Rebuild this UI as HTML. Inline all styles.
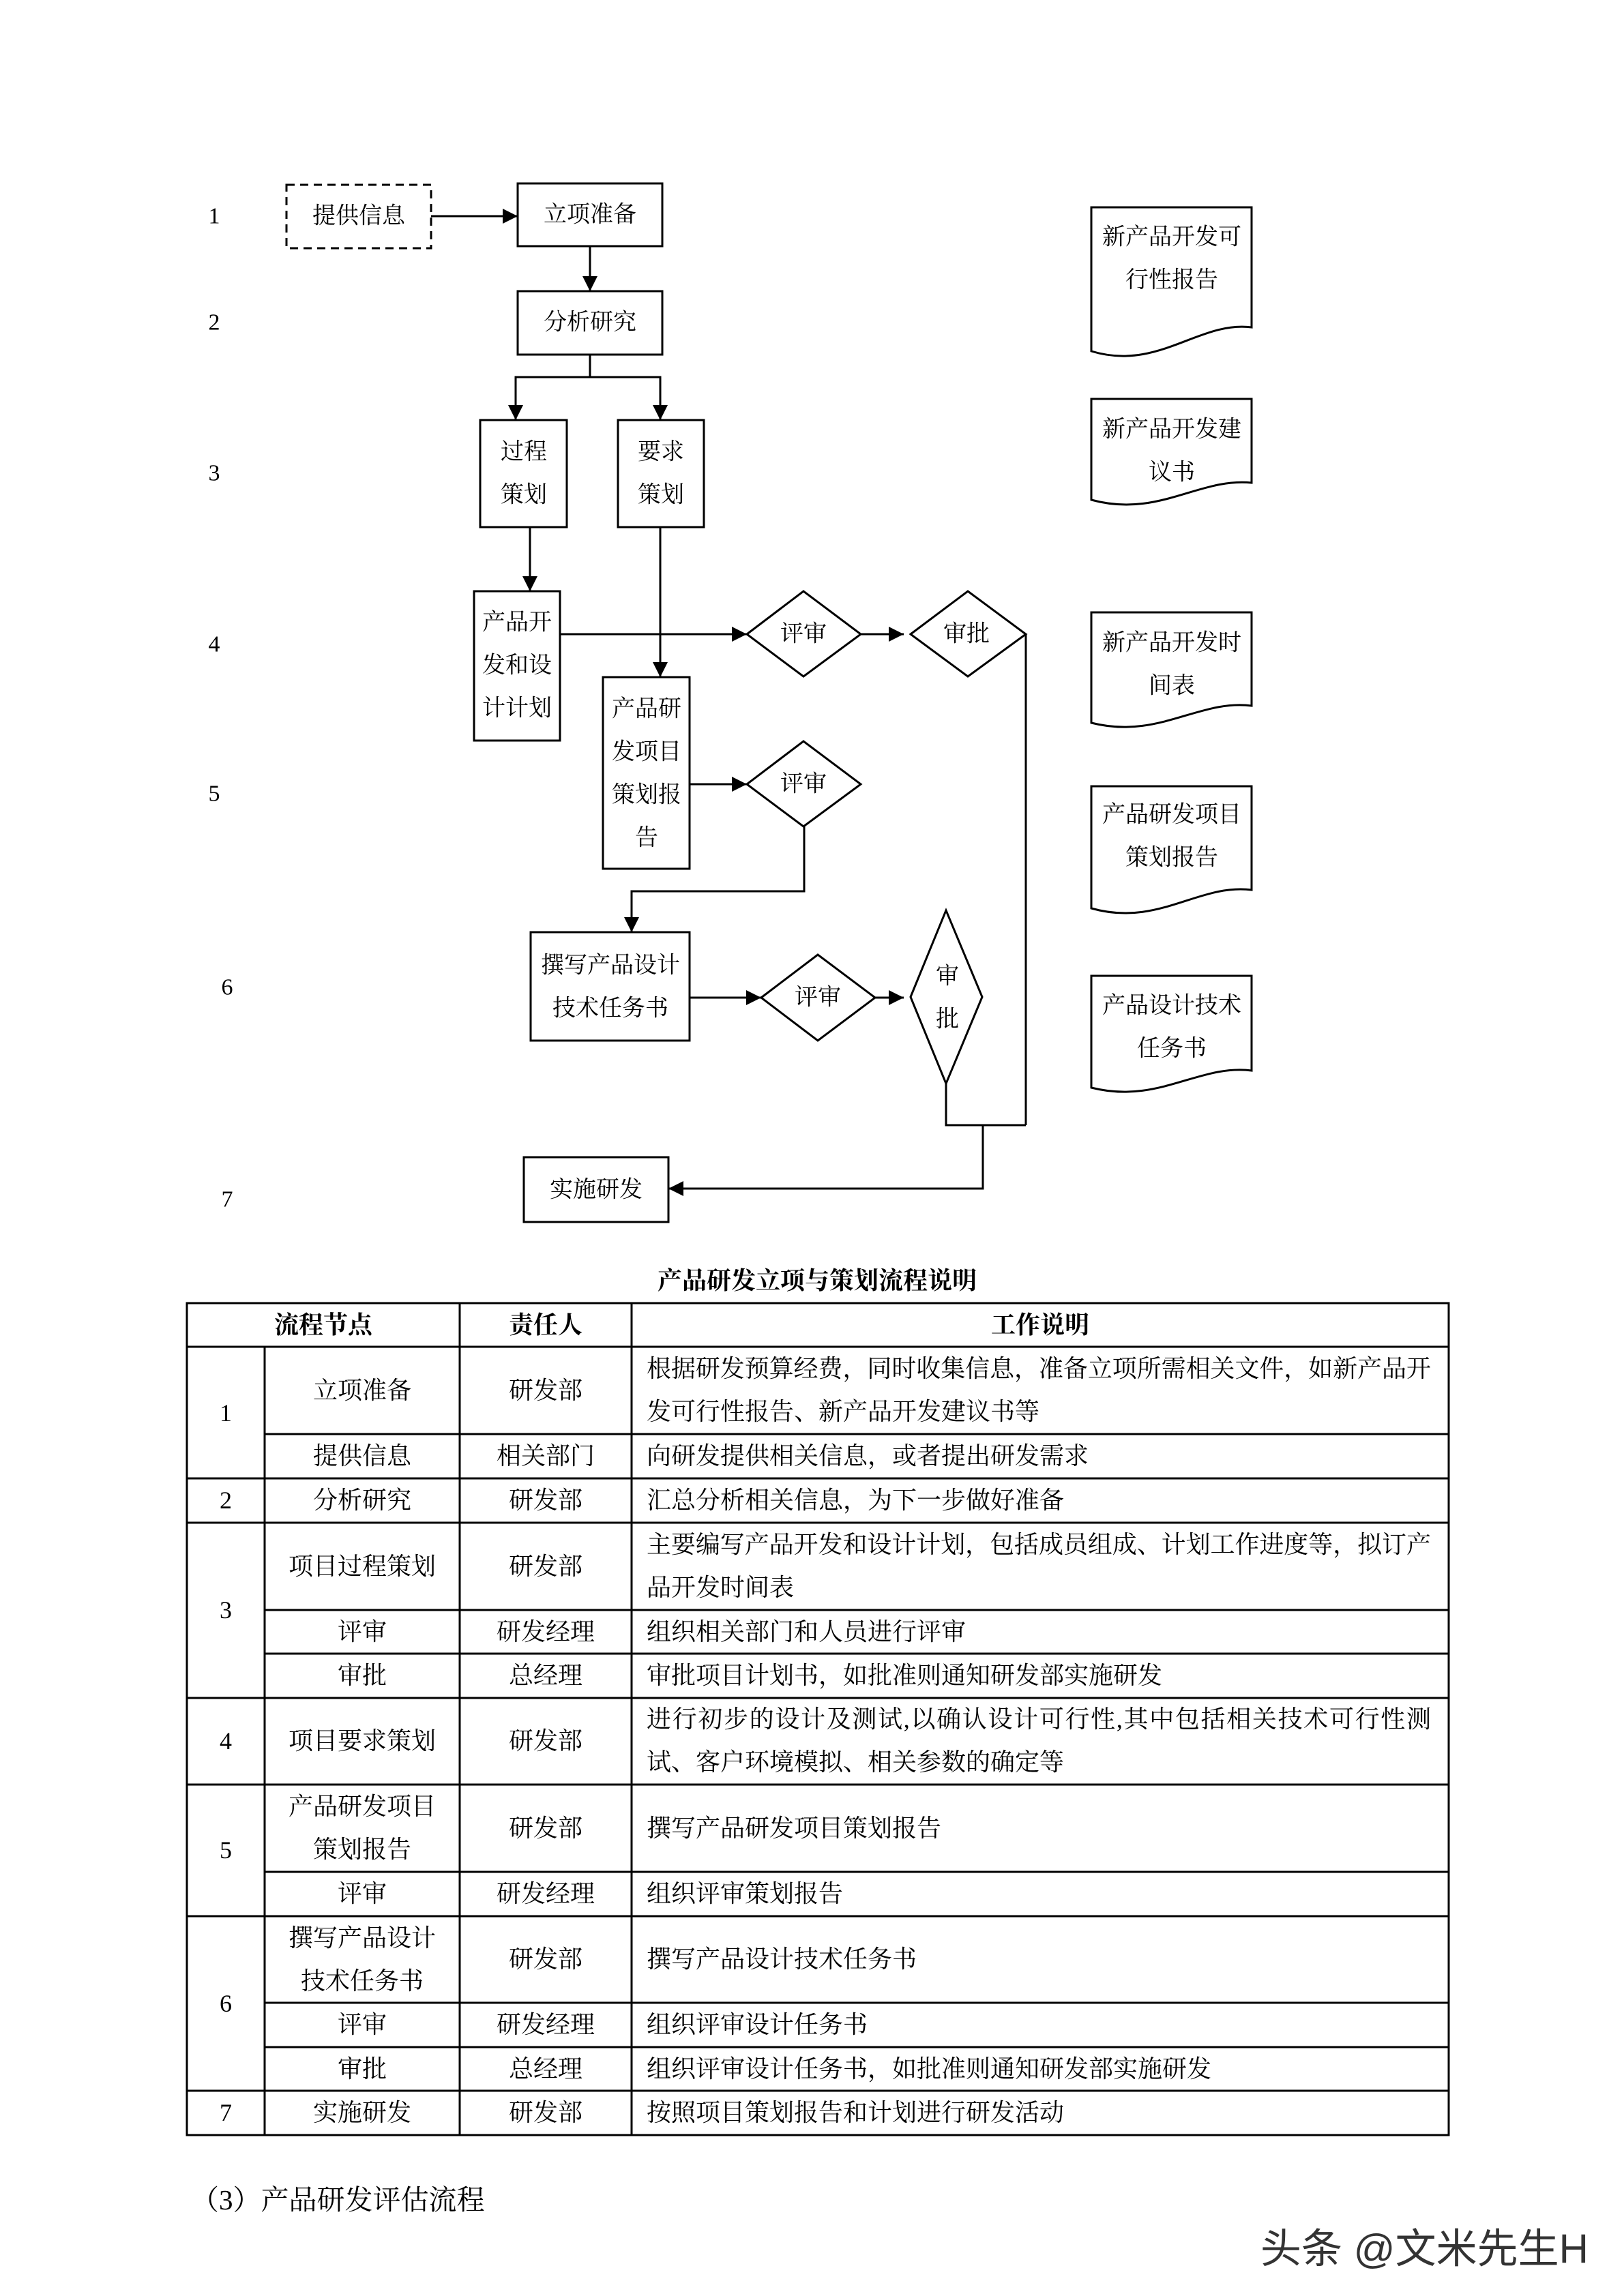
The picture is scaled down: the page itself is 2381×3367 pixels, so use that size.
<!DOCTYPE html>
<html><head><meta charset="utf-8"><style>
html,body{margin:0;padding:0;background:#fff}
svg{display:block}
text{font-family:"Liberation Serif","Noto Serif CJK SC",serif;font-size:34px;fill:#000}
.t{font-size:36px}
</style></head><body>
<svg width="2381" height="3367" viewBox="0 0 2381 3367" xmlns="http://www.w3.org/2000/svg">
<defs>
<marker id="b" viewBox="0 0 10 10" refX="10" refY="5" markerWidth="26" markerHeight="22" markerUnits="userSpaceOnUse" orient="auto"><path d="M0,0L10,5L0,10z" fill="#000"/></marker></defs>
<g stroke="#000" stroke-width="3" fill="none">
<rect x="420" y="271" width="212" height="93" stroke-dasharray="12,8"/>
<rect x="759" y="269" width="212" height="92"/>
<rect x="759" y="427" width="212" height="93"/>
<rect x="704" y="616" width="127" height="157"/>
<rect x="906" y="616" width="126" height="157"/>
<rect x="695" y="867" width="126" height="219"/>
<rect x="884" y="993" width="127" height="281"/>
<rect x="778" y="1367" width="233" height="159"/>
<rect x="768" y="1697" width="212" height="95"/>
<path d="M1095,930L1178,867L1262,930L1178,992Z"/>
<path d="M1335,930L1419,867L1504,930L1419,992Z"/>
<path d="M1095,1150L1178,1087L1262,1150L1178,1212Z"/>
<path d="M1116,1463L1199,1400L1283,1463L1199,1526Z"/>
<path d="M1335,1462L1387,1335L1440,1462L1387,1589Z"/>
<g marker-end="url(#b)">
<path d="M632,317L759,317"/>
<path d="M865,361L865,427"/>
<path d="M865,520L865,553L756,553L756,616"/>
<path d="M865,553L968,553L968,616"/>
<path d="M777,773L777,867"/>
<path d="M968,773L968,993"/>
<path d="M821,930L1095,930"/>
<path d="M1262,930L1325,930"/>
<path d="M1011,1150L1095,1150"/>
<path d="M1179,1212L1179,1307L926,1307L926,1367"/>
<path d="M1011,1463L1116,1463"/>
<path d="M1283,1463L1325,1463"/>
<path d="M1441,1650L1441,1743L980,1743"/>
</g>
<path d="M1504,930L1504,1650"/>
<path d="M1387,1589L1387,1650L1504,1650"/>
<path d="M1600,304H1835V480C1758,470 1698,545 1600,515Z"/>
<path d="M1600,585H1835V708C1758,700 1698,760 1600,733Z"/>
<path d="M1600,898H1835V1035C1758,1025 1698,1085 1600,1060Z"/>
<path d="M1600,1153H1835V1305C1758,1295 1698,1360 1600,1332Z"/>
<path d="M1600,1431H1835V1570C1758,1560 1698,1620 1600,1595Z"/>
<rect x="274" y="1911" width="1850" height="1220"/>
<path d="M388,1975V3131M674,1911V3131M926,1911V3131"/>
<path d="M274,1975H2124M388,2103H2124M274,2168H2124M274,2233H2124M388,2361H2124M388,2425H2124M274,2490H2124M274,2617H2124M388,2745H2124M274,2810H2124M388,2937H2124M388,3002H2124M274,3066H2124"/>
</g>
<g text-anchor="middle" dominant-baseline="central">
<text x="314" y="317">1</text><text x="314" y="473">2</text><text x="314" y="694">3</text><text x="314" y="945">4</text><text x="314" y="1164">5</text><text x="333" y="1448">6</text><text x="333" y="1759">7</text>
<text x="526" y="317">提供信息</text>
<text x="865" y="315">立项准备</text>
<text x="865" y="473">分析研究</text>
<text x="768" y="663">过程</text><text x="768" y="726">策划</text>
<text x="969" y="663">要求</text><text x="969" y="726">策划</text>
<text x="758" y="913">产品开</text><text x="758" y="976">发和设</text><text x="758" y="1039">计计划</text>
<text x="948" y="1040">产品研</text><text x="948" y="1103">发项目</text><text x="948" y="1166">策划报</text><text x="948" y="1229">告</text>
<text x="895" y="1416">撰写产品设计</text><text x="895" y="1479">技术任务书</text>
<text x="874" y="1745">实施研发</text>
<text x="1178" y="930">评审</text>
<text x="1417" y="930">审批</text>
<text x="1178" y="1150">评审</text>
<text x="1199" y="1463">评审</text>
<text x="1389" y="1432">审</text><text x="1389" y="1495">批</text>
<text x="1718" y="348">新产品开发可</text><text x="1718" y="411">行性报告</text>
<text x="1718" y="630">新产品开发建</text><text x="1718" y="693">议书</text>
<text x="1718" y="943">新产品开发时</text><text x="1718" y="1006">间表</text>
<text x="1718" y="1195">产品研发项目</text><text x="1718" y="1258">策划报告</text>
<text x="1718" y="1475">产品设计技术</text><text x="1718" y="1538">任务书</text>
<text x="1198" y="1878" font-weight="bold" class="t">产品研发立项与策划流程说明</text>
<text x="474" y="1943" font-weight="bold" class="t">流程节点</text><text x="800" y="1943" font-weight="bold" class="t">责任人</text><text x="1525" y="1943" font-weight="bold" class="t">工作说明</text>
<text x="331" y="2072" class="t">1</text><text x="331" y="2200" class="t">2</text><text x="331" y="2361" class="t">3</text><text x="331" y="2553" class="t">4</text><text x="331" y="2713" class="t">5</text><text x="331" y="2938" class="t">6</text><text x="331" y="3098" class="t">7</text>
<text x="531" y="2039" class="t">立项准备</text><text x="800" y="2039" class="t">研发部</text>
<text x="531" y="2135" class="t">提供信息</text><text x="800" y="2135" class="t">相关部门</text>
<text x="531" y="2200" class="t">分析研究</text><text x="800" y="2200" class="t">研发部</text>
<text x="531" y="2297" class="t">项目过程策划</text><text x="800" y="2297" class="t">研发部</text>
<text x="531" y="2393" class="t">评审</text><text x="800" y="2393" class="t">研发经理</text>
<text x="531" y="2457" class="t">审批</text><text x="800" y="2457" class="t">总经理</text>
<text x="531" y="2553" class="t">项目要求策划</text><text x="800" y="2553" class="t">研发部</text>
<text x="531" y="2649" class="t">产品研发项目</text><text x="531" y="2712" class="t">策划报告</text><text x="800" y="2681" class="t">研发部</text>
<text x="531" y="2777" class="t">评审</text><text x="800" y="2777" class="t">研发经理</text>
<text x="531" y="2842" class="t">撰写产品设计</text><text x="531" y="2905" class="t">技术任务书</text><text x="800" y="2873" class="t">研发部</text>
<text x="531" y="2969" class="t">评审</text><text x="800" y="2969" class="t">研发经理</text>
<text x="531" y="3034" class="t">审批</text><text x="800" y="3034" class="t">总经理</text>
<text x="531" y="3098" class="t">实施研发</text><text x="800" y="3098" class="t">研发部</text>
</g>
<g dominant-baseline="central">
<text class="t" x="948" y="2007" textLength="1150">根据研发预算经费，同时收集信息，准备立项所需相关文件，如新产品开</text>
<text class="t" x="948" y="2070">发可行性报告、新产品开发建议书等</text>
<text class="t" x="948" y="2135">向研发提供相关信息，或者提出研发需求</text>
<text class="t" x="948" y="2200">汇总分析相关信息，为下一步做好准备</text>
<text class="t" x="948" y="2265" textLength="1150">主要编写产品开发和设计计划，包括成员组成、计划工作进度等，拟订产</text>
<text class="t" x="948" y="2328">品开发时间表</text>
<text class="t" x="948" y="2393">组织相关部门和人员进行评审</text>
<text class="t" x="948" y="2457">审批项目计划书，如批准则通知研发部实施研发</text>
<text class="t" x="948" y="2521" textLength="1150">进行初步的设计及测试,以确认设计可行性,其中包括相关技术可行性测</text>
<text class="t" x="948" y="2584">试、客户环境模拟、相关参数的确定等</text>
<text class="t" x="948" y="2681">撰写产品研发项目策划报告</text>
<text class="t" x="948" y="2777">组织评审策划报告</text>
<text class="t" x="948" y="2873">撰写产品设计技术任务书</text>
<text class="t" x="948" y="2969">组织评审设计任务书</text>
<text class="t" x="948" y="3034">组织评审设计任务书，如批准则通知研发部实施研发</text>
<text class="t" x="948" y="3098">按照项目策划报告和计划进行研发活动</text>
<text x="280" y="3226" style="font-size:41px">（3）产品研发评估流程</text>
<text x="1848" y="3298" style="font-size:60px;font-family:'Liberation Sans','Noto Sans CJK SC',sans-serif;fill:#333">头条 @文米先生H</text>
</g>
</svg>
</body></html>
